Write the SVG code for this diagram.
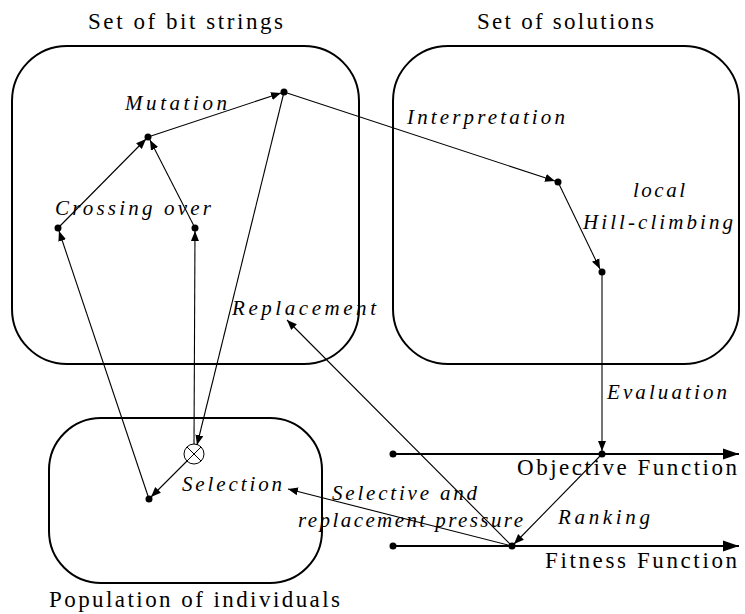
<svg xmlns="http://www.w3.org/2000/svg" width="745" height="614" viewBox="0 0 745 614">
<defs>
<marker id="ah" viewBox="0 0 10 10" refX="10" refY="5" markerWidth="10" markerHeight="10" markerUnits="userSpaceOnUse" orient="auto">
<path d="M0,1 L10,5 L0,9 z" fill="#000"/>
</marker>
<marker id="big" viewBox="0 0 10 10" refX="10" refY="5" markerWidth="16" markerHeight="16" markerUnits="userSpaceOnUse" orient="auto">
<path d="M0,1.5 L10,5 L0,8.5 z" fill="#000"/>
</marker>
</defs>
<style>
.box{fill:none;stroke:#000;stroke-width:2}
.c{fill:none;stroke:#000;stroke-width:1.1}
.ax{fill:none;stroke:#000;stroke-width:2}
.dot{fill:#000}
.t{font-family:"Liberation Serif",serif;font-size:23px;fill:#000}
.i{font-family:"Liberation Serif",serif;font-size:21px;font-style:italic;fill:#000}
</style>
<rect width="745" height="614" fill="#fff"/>
<g id="bitstrings">
<rect class="box" x="12" y="46" width="347" height="318" rx="55" ry="55"/>
<text class="t" x="88" y="29" textLength="195" lengthAdjust="spacing">Set of bit strings</text>
</g>
<g id="solutions">
<rect class="box" x="393" y="46" width="346" height="318" rx="55" ry="55"/>
<text class="t" x="477" y="29" textLength="177" lengthAdjust="spacing">Set of solutions</text>
</g>
<g id="population">
<rect class="box" x="49" y="418" width="273" height="165" rx="52" ry="52"/>
<text class="t" x="49" y="607" textLength="291" lengthAdjust="spacing">Population of individuals</text>
</g>
<g id="objective">
<line class="ax" x1="393" y1="454" x2="739" y2="454" marker-end="url(#big)"/>
<circle class="dot" cx="393" cy="454" r="3.5"/>
<text class="t" x="517" y="475" textLength="220" lengthAdjust="spacing">Objective Function</text>
</g>
<g id="fitness">
<line class="ax" x1="393" y1="546" x2="739" y2="546" marker-end="url(#big)"/>
<circle class="dot" cx="393" cy="546" r="3.5"/>
<text class="t" x="545" y="568" textLength="192" lengthAdjust="spacing">Fitness Function</text>
</g>
<g id="selection">
<circle cx="194" cy="454" r="10" fill="#fff" stroke="#000" stroke-width="1"/>
<line x1="187" y1="447" x2="201" y2="461" stroke="#000" stroke-width="1"/>
<line x1="201" y1="447" x2="187" y2="461" stroke="#000" stroke-width="1"/>
</g>
<g id="points">
<circle class="dot" cx="284" cy="92" r="3.5"/>
<circle class="dot" cx="148" cy="137" r="3.5"/>
<circle class="dot" cx="58" cy="228" r="3.5"/>
<circle class="dot" cx="195" cy="228" r="3.5"/>
<circle class="dot" cx="558" cy="182" r="3.5"/>
<circle class="dot" cx="602" cy="272" r="3.5"/>
<circle class="dot" cx="602" cy="454" r="3.5"/>
<circle class="dot" cx="512" cy="546" r="3.5"/>
<circle class="dot" cx="149" cy="499" r="3.5"/>
</g>
<g id="connectors">
<line class="c" x1="58" y1="228" x2="146" y2="139" marker-end="url(#ah)"/>
<line class="c" x1="195" y1="228" x2="150" y2="140" marker-end="url(#ah)"/>
<line class="c" x1="148" y1="137" x2="281" y2="93" marker-end="url(#ah)"/>
<line class="c" x1="284" y1="92" x2="555" y2="181" marker-end="url(#ah)"/>
<line class="c" x1="558" y1="182" x2="600" y2="269" marker-end="url(#ah)"/>
<line class="c" x1="602" y1="272" x2="602" y2="451" marker-end="url(#ah)"/>
<line class="c" x1="602" y1="454" x2="514" y2="544" marker-end="url(#ah)"/>
<line class="c" x1="512" y1="546" x2="288" y2="489" marker-end="url(#ah)"/>
<line class="c" x1="512" y1="546" x2="287" y2="320" marker-end="url(#ah)"/>
<line class="c" x1="194" y1="444" x2="195" y2="231" marker-end="url(#ah)"/>
<line class="c" x1="284" y1="92" x2="197" y2="445" marker-end="url(#ah)"/>
<line class="c" x1="187" y1="461" x2="151" y2="497" marker-end="url(#ah)"/>
<line class="c" x1="149" y1="499" x2="59" y2="231" marker-end="url(#ah)"/>
</g>
<g id="labels">
<text class="i" x="125" y="110" textLength="102" lengthAdjust="spacing">Mutation</text>
<text class="i" x="55" y="215" textLength="156" lengthAdjust="spacing">Crossing over</text>
<text class="i" x="407" y="124" textLength="158" lengthAdjust="spacing">Interpretation</text>
<text class="i" x="633" y="197" textLength="52" lengthAdjust="spacing">local</text>
<text class="i" x="583" y="229" textLength="150" lengthAdjust="spacing">Hill-climbing</text>
<text class="i" x="232" y="315" textLength="144" lengthAdjust="spacing">Replacement</text>
<text class="i" x="607" y="399" textLength="120" lengthAdjust="spacing">Evaluation</text>
<text class="i" x="182" y="491" textLength="100" lengthAdjust="spacing">Selection</text>
<text class="i" x="332" y="500" textLength="145" lengthAdjust="spacing">Selective and</text>
<text class="i" x="298" y="527" textLength="225" lengthAdjust="spacing">replacement pressure</text>
<text class="i" x="558" y="524" textLength="92" lengthAdjust="spacing">Ranking</text>
</g>
</svg>
